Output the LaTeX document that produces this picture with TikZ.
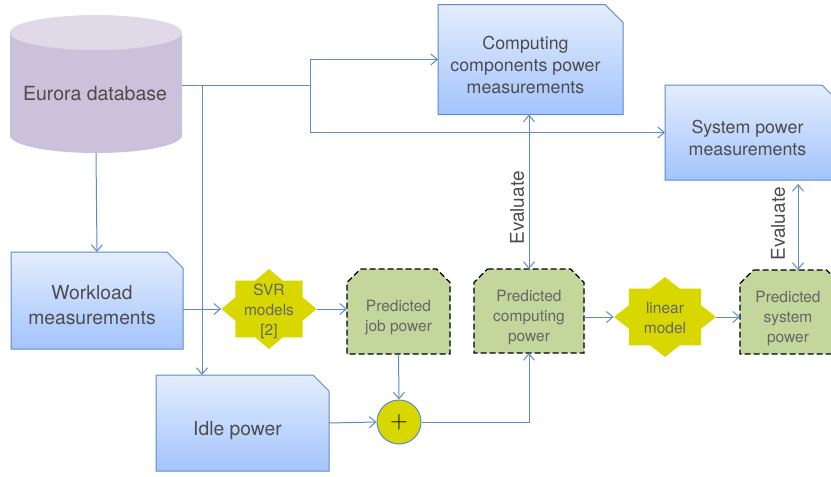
\documentclass[tikz,border=0pt]{standalone}
\usepackage{fontspec}
\setmainfont{TeX Gyre Heros}
\usetikzlibrary{arrows.meta,shapes.geometric,backgrounds}
\definecolor{linkblue}{HTML}{5B8CC8}
\definecolor{predgreen}{HTML}{C3D69B}
\definecolor{staryellow}{HTML}{D8D800}
\definecolor{measlight}{HTML}{E4EDFD}
\definecolor{measdark}{HTML}{A3C4FD}
\definecolor{dbbody}{HTML}{CCC1DA}
\definecolor{dbend}{HTML}{E0DAE8}
\tikzset{
  link/.style={draw=linkblue,line width=1pt,>={Straight Barb[length=6.5pt,width=11pt]}},
  measbox/.style={rectangle,inner sep=0pt,outer sep=0pt},
  measshape/.style={draw=linkblue,line width=1pt,top color=measlight,bottom color=measdark},
  meastext/.style={text=black!70,align=center,xshift=-5pt,yshift=-5pt,font=\fontsize{17.8}{22}\selectfont},
  bigtext/.style={meastext,font=\fontsize{19.3}{25}\selectfont},
  predbox/.style={rectangle,inner sep=0pt,outer sep=0pt},
  predshape/.style={draw=black,dash pattern=on 6pt off 3pt,line width=1.3pt,fill=predgreen},
  predtext/.style={text=black!60,align=center,yshift=-6.5pt,font=\fontsize{15.5}{20}\selectfont},
  modelstar/.style={star,star points=8,star point ratio=1.307,minimum size=80pt,inner sep=0pt,fill=staryellow},
  startext/.style={text=black!60,align=center,font=\fontsize{15.5}{20}\selectfont},
  evaltext/.style={rotate=90,text=black!70,font=\fontsize{19}{22}\selectfont}
}
\begin{document}
\begin{tikzpicture}[x=1pt,y=-1pt]
  \useasboundingbox (0,0) rectangle (831,477);

  % data sources
  \node[rectangle,inner sep=0pt,outer sep=0pt,minimum width=172pt,minimum height=138pt,label={[text=black!70,xshift=-1pt,yshift=-10pt,font=\fontsize{19.5}{23}\selectfont]center:{Eurora database}}] (db) at (96,84) {};
  \node[measbox,minimum width=172pt,minimum height=97pt,label={[bigtext]center:{Workload\\measurements}}] (workload) at (97,300.5) {};
  \node[measbox,minimum width=173pt,minimum height=96pt,label={[bigtext,yshift=-3pt]center:{Idle power}}] (idle) at (242.5,423) {};
  \node[measbox,minimum width=185pt,minimum height=110pt,label={[meastext]center:{Computing\\components power\\measurements}}] (compmeas) at (530.5,59.5) {};
  \node[measbox,minimum width=175pt,minimum height=95pt,label={[meastext]center:{System power\\measurements}}] (sysmeas) at (752.5,132.5) {};

  % predictions
  \node[predbox,minimum width=103pt,minimum height=85pt,label={[predtext]center:{Predicted\\job power}}] (jobpred) at (398.5,311.5) {};
  \node[predbox,minimum width=110pt,minimum height=84pt,label={[predtext]center:{Predicted\\computing\\power}}] (comppred) at (529,311) {};
  \node[predbox,minimum width=100pt,minimum height=84pt,label={[predtext,xshift=-2pt]center:{Predicted\\system\\power}}] (syspred) at (790,312) {};

  % outlines behind the text
  \begin{pgfonlayer}{background}
    \clip (0,0) rectangle (831,477);
    \path[fill=dbbody] ([yshift=-17.5pt]db.north west) -- ([yshift=17.5pt]db.south west) arc[start angle=180,end angle=360,x radius=86pt,y radius=17.5pt] -- ([yshift=-17.5pt]db.north east) -- cycle;
    \path[fill=dbend] ([yshift=-17.5pt]db.north) ellipse[x radius=86pt,y radius=17.5pt];
    \foreach \n/\c in {workload/16,idle/16,compmeas/18,sysmeas/18}
      \path[measshape] (\n.north west) -- ([xshift=-\c pt]\n.north east) -- ([yshift=-\c pt]\n.north east) -- (\n.south east) -- (\n.south west) -- cycle;
    \foreach \n in {jobpred,comppred,syspred}
      \path[predshape] ([xshift=13.5pt]\n.north west) -- ([xshift=-13.5pt]\n.north east) -- ([yshift=-13.5pt]\n.north east) -- (\n.south east) -- (\n.south west) -- ([yshift=-13.5pt]\n.north west) -- cycle;
  \end{pgfonlayer}

  % models
  \node[modelstar,xscale=1.19,transform shape,label={[startext,yshift=-2pt]center:{SVR\\models\\{[2]}}}] (svr) at (269,309) {};
  \node[modelstar,xscale=1.275,transform shape,label={[startext,yshift=-1pt]center:{linear\\model}}] (linear) at (665,317) {};
  \node[circle,minimum size=44pt,inner sep=0pt,draw=linkblue,line width=1pt,fill=staryellow,font=\fontsize{32}{32}\selectfont] (plus) at (399,422) {$+$};

  % connectors
  \coordinate (fork) at (310,85);
  \coordinate (tap) at (202,85);
  \draw[link,->] (db.south) -- (workload.north);
  \draw[link,->] (db.east |- fork) -- (fork) |- (compmeas.west);
  \draw[link,->] (fork) |- (sysmeas.west);
  \draw[link,->] (tap) -- (tap |- idle.north);
  \draw[link,->] (workload.east |- svr.west) -- (svr.west);
  \draw[link,->] (svr.east) -- (jobpred.west |- svr.east);
  \draw[link,->] (jobpred.south) -- (plus.north);
  \draw[link,->] (idle.east) -- (plus.west);
  \draw[link,->] (plus.east) -| (comppred.south);
  \draw[link,->] (comppred.east |- linear.west) -- (linear.west);
  \draw[link,->] (linear.east) -- (syspred.west |- linear.east);
  \draw[link,<->] (comppred.north) -- (compmeas.south -| comppred.north);
  \coordinate (sysup) at (798,184);
  \draw[link,<->] (sysup |- syspred.north) -- (sysup);

  \node[evaltext] (evalcomp) at (517,208) {Evaluate};
  \node[evaltext] (evalsys) at (778,224) {Evaluate};
\end{tikzpicture}
\end{document}
